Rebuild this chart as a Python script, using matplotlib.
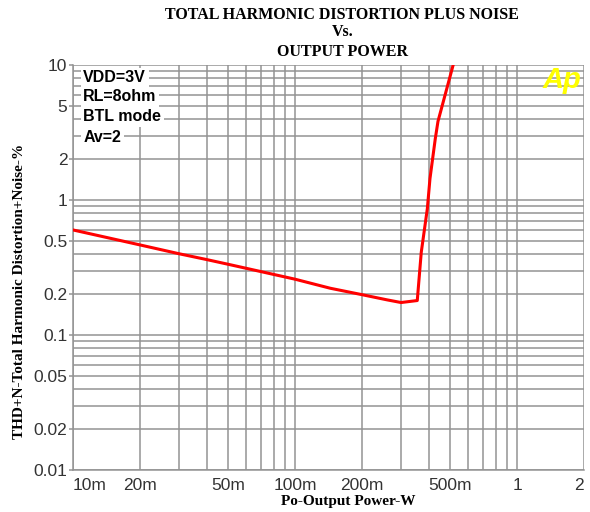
import matplotlib
matplotlib.use('Agg')
from matplotlib import pyplot as plt
from matplotlib.ticker import FixedLocator, NullFormatter, LogLocator

# THD+N (%) vs output power (W)
power = [0.01, 0.02, 0.03, 0.04, 0.05, 0.1, 0.144, 0.2, 0.26, 0.30,
         0.355, 0.37, 0.394, 0.405, 0.428, 0.44, 0.475, 0.515]
thdn = [0.60, 0.465, 0.40, 0.362, 0.334, 0.259, 0.222, 0.199, 0.182, 0.174,
        0.18, 0.41, 0.86, 1.44, 2.85, 3.82, 6.1, 10.0]

x_ticks = [0.01, 0.02, 0.05, 0.1, 0.2, 0.5, 1, 2]
x_labels = ['10m', '20m', '50m', '100m', '200m', '500m', '1', '2']
y_ticks = [0.01, 0.02, 0.05, 0.1, 0.2, 0.5, 1, 2, 5, 10]
y_labels = ['0.01', '0.02', '0.05', '0.1', '0.2', '0.5', '1', '2', '5', '10']
conditions = ['VDD=3V', 'RL=8ohm', 'BTL mode', 'Av=2']

grid_col = '#939393'
serif = 'Liberation Serif'
sans = 'Liberation Sans'

fig = plt.figure(figsize=(5.9, 5.12), dpi=100)
ax = fig.add_axes([73 / 590, 42 / 512, 511 / 590, 405 / 512])

ax.set_xscale('log')
ax.set_yscale('log')
ax.set_xlim(0.01, 2)
ax.set_ylim(0.01, 10)

ax.xaxis.set_major_locator(FixedLocator(x_ticks))
ax.xaxis.set_minor_locator(LogLocator(base=10, subs=range(2, 10), numticks=20))
ax.xaxis.set_minor_formatter(NullFormatter())
ax.set_xticklabels(x_labels, fontfamily=sans, fontsize=12.5)
ax.yaxis.set_major_locator(FixedLocator(y_ticks))
ax.yaxis.set_minor_locator(LogLocator(base=10, subs=range(2, 10), numticks=20))
ax.yaxis.set_minor_formatter(NullFormatter())
ax.set_yticklabels(y_labels, fontfamily=sans, fontsize=12.5)

xl = ax.get_xticklabels()
xl[0].set_ha('left')
xl[-1].set_ha('right')

ax.grid(which='both', color=grid_col, linewidth=1.1)
ax.tick_params(axis='x', which='both', length=0, pad=6, colors='#333333')
ax.tick_params(axis='y', which='major', length=3, width=1.1, color=grid_col,
               pad=1, labelcolor='#333333')
ax.tick_params(axis='y', which='minor', length=0)
ax.set_axisbelow(True)

for s in ['top', 'right']:
    ax.spines[s].set_visible(False)
for s in ['left', 'bottom']:
    ax.spines[s].set_color(grid_col)
    ax.spines[s].set_linewidth(1.1)

ax.plot(power, thdn, color='#ff0000', linewidth=2.2, zorder=3)

ys = [0.968, 0.921, 0.872, 0.822]
for t, yy in zip(conditions, ys):
    ax.text(0.02, yy, t, transform=ax.transAxes, fontfamily=sans,
            fontweight='bold', fontsize=11.5, va='center', ha='left',
            bbox=dict(facecolor='white', edgecolor='none', pad=2), zorder=4)

ax.text(0.957, 0.963, 'Ap', transform=ax.transAxes, fontfamily=sans,
        fontweight='bold', fontstyle='italic', fontsize=21, color='#ffff00',
        ha='center', va='center', zorder=4)

fig.text(0.58, 1 - 15 / 512, 'TOTAL HARMONIC DISTORTION PLUS NOISE',
         fontfamily=serif, fontweight='bold', fontsize=11.5, ha='center', va='center')
fig.text(0.58, 1 - 32 / 512, 'Vs.', fontfamily=serif, fontweight='bold',
         fontsize=11.5, ha='center', va='center')
fig.text(0.58, 1 - 52 / 512, 'OUTPUT POWER', fontfamily=serif, fontweight='bold',
         fontsize=11.5, ha='center', va='center')

fig.text(348 / 590, 1 - 502 / 512, 'Po-Output Power-W', fontfamily=serif,
         fontweight='bold', fontsize=11, ha='center', va='center')
fig.text(20 / 590, 1 - 291 / 512, 'THD+N-Total Harmonic Distortion+Noise-%',
         fontfamily=serif, fontweight='bold', fontsize=11, rotation=90,
         ha='center', va='center')

fig.savefig('out.png', dpi=100)
